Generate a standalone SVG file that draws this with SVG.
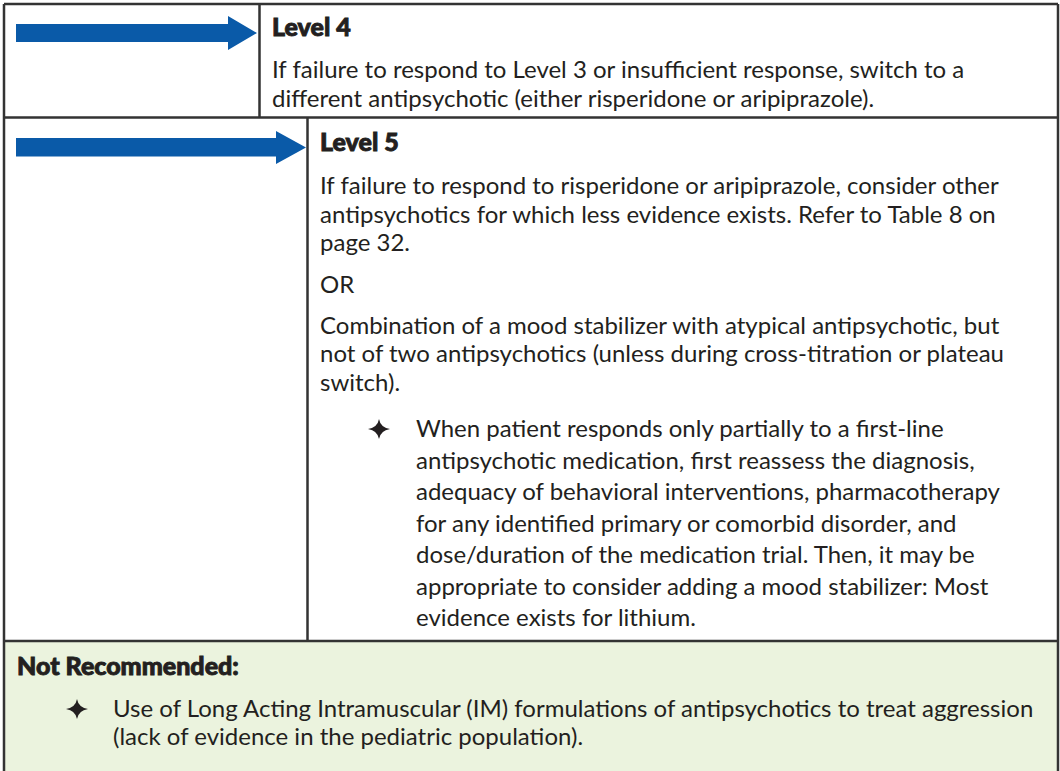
<svg xmlns="http://www.w3.org/2000/svg" width="1060" height="771" viewBox="0 0 1060 771">
<style>
.b{font-family:Lato,"Liberation Sans",sans-serif;font-size:24px;fill:#231f20}
.h{font-family:Lato,"Liberation Sans",sans-serif;font-size:25px;font-weight:900;fill:#231f20;stroke:#231f20;stroke-width:0.9}
.ln{stroke:#333;stroke-width:2.5;fill:none}
.arr{fill:#0a5aa8}
.star{fill:#231f20}
</style>
<defs>
<path id="star" d="M0,-10 Q1.5,-1.5 11,0 Q1.5,1.5 0,10 Q-1.5,1.5 -11,0 Q-1.5,-1.5 0,-10Z"/>
</defs>
<rect x="0" y="0" width="1060" height="771" fill="#fff"/>
<rect x="4" y="641" width="1054" height="130" fill="#ebf3de"/>
<g id="connectors">
<path class="arr" d="M16,24H228V16L257,33L228,50V42H16Z"/>
<path class="arr" d="M16,138H276V131L306,147.5L276,164V156.5H16Z"/>
</g>
<g id="grid">
<path class="ln" d="M4,4H1058M4,4V771M1058,4V771M4,117.5H1058M259.5,4V117.5M307.5,117.5V641M4,641H1058"/>
</g>
<g id="level4">
<text class="h" x="272" y="36">Level 4</text>
<text class="b" x="272" y="78">If failure to respond to Level 3 or insufficient response, switch to a</text>
<text class="b" x="272" y="107">different antipsychotic (either risperidone or aripiprazole).</text>
</g>
<g id="level5">
<text class="h" x="320" y="151">Level 5</text>
<text class="b" x="320" y="194">If failure to respond to risperidone or aripiprazole, consider other</text>
<text class="b" x="320" y="222.5">antipsychotics for which less evidence exists. Refer to Table 8 on</text>
<text class="b" x="320" y="251">page 32.</text>
<text class="b" x="320" y="293">OR</text>
<text class="b" x="320" y="333.5">Combination of a mood stabilizer with atypical antipsychotic, but</text>
<text class="b" x="320" y="362">not of two antipsychotics (unless during cross-titration or plateau</text>
<text class="b" x="320" y="390.5">switch).</text>
<use href="#star" class="star" x="379" y="429"/>
<text class="b" x="416" y="437">When patient responds only partially to a first-line</text>
<text class="b" x="416" y="468.5">antipsychotic medication, first reassess the diagnosis,</text>
<text class="b" x="416" y="500">adequacy of behavioral interventions, pharmacotherapy</text>
<text class="b" x="416" y="531.5">for any identified primary or comorbid disorder, and</text>
<text class="b" x="416" y="563">dose/duration of the medication trial. Then, it may be</text>
<text class="b" x="416" y="594.5">appropriate to consider adding a mood stabilizer: Most</text>
<text class="b" x="416" y="626">evidence exists for lithium.</text>
</g>
<g id="not-recommended">
<text class="h" x="17" y="675">Not Recommended:</text>
<use href="#star" class="star" x="77" y="709"/>
<text class="b" x="113" y="717">Use of Long Acting Intramuscular (IM) formulations of antipsychotics to treat aggression</text>
<text class="b" x="113" y="745">(lack of evidence in the pediatric population).</text>
</g>
</svg>
